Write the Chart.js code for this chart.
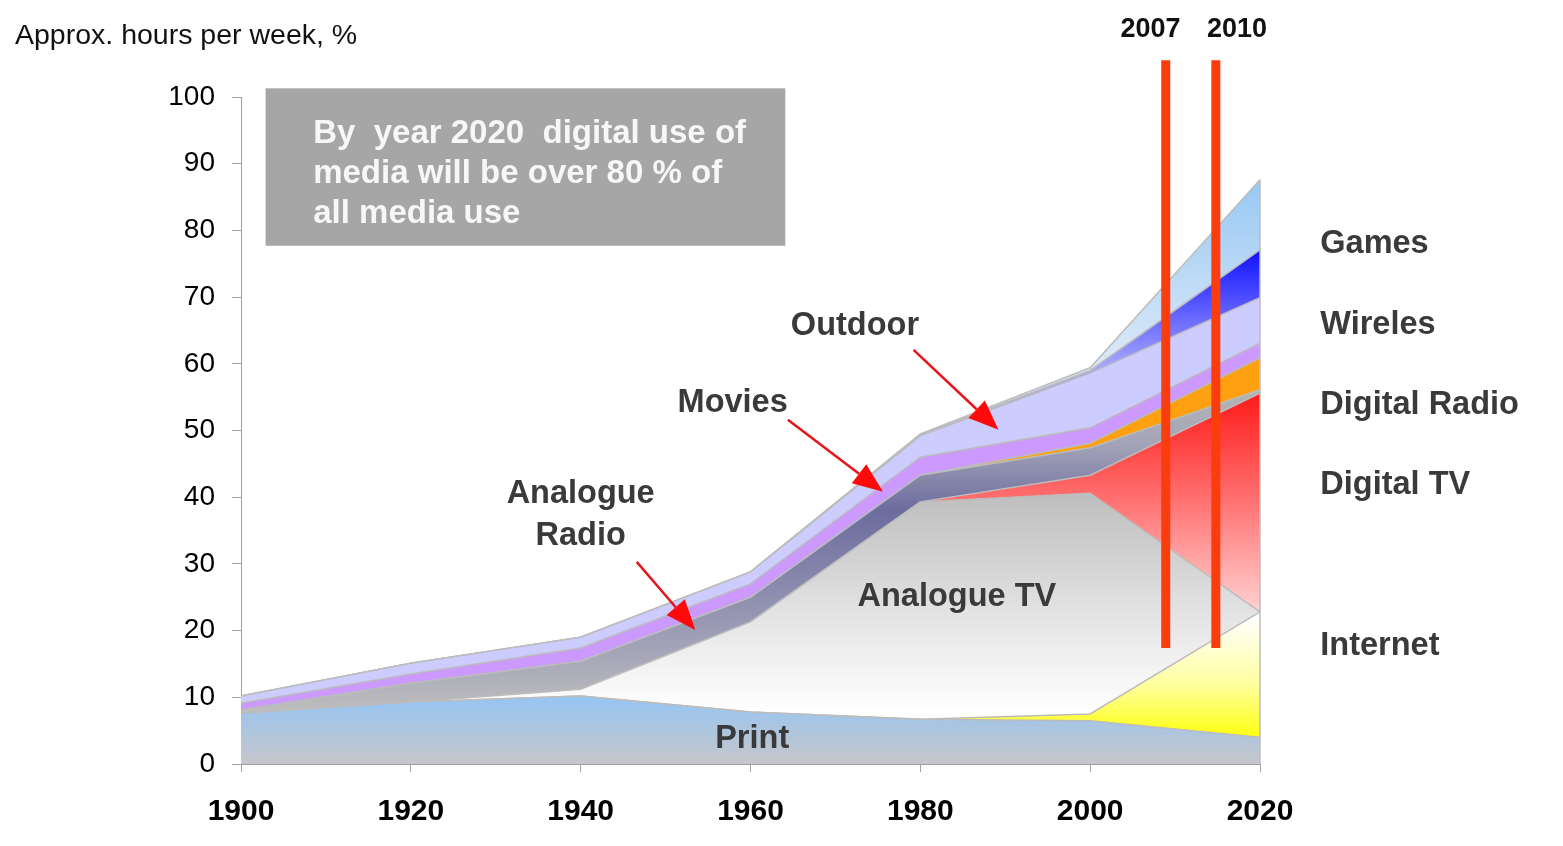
<!DOCTYPE html>
<html>
<head>
<meta charset="utf-8">
<title>Media use 1900-2020</title>
<script src="https://cdn.jsdelivr.net/npm/chart.js@4.4.1/dist/chart.umd.min.js"></script>
<style>
  html, body { margin: 0; padding: 0; background: #fff; }
  #wrap { position: relative; width: 1563px; height: 846px; }
</style>
</head>
<body>
<div id="wrap"><canvas id="mediaChart" width="1563" height="846"></canvas></div>
<script>
// years on the x axis
var years = [1900, 1920, 1940, 1960, 1980, 2000, 2020];

// stacked series, bottom to top (approx. hours per week, %)
var print         = [7.6, 9.3, 10.2, 7.8, 6.7, 6.5, 4.0];
var internet      = [0, 0, 0, 0, 0, 1.0, 18.8];
var analogueTv    = [0, 0, 1.0, 13.5, 32.6, 33.1, 0];
var digitalTv     = [0, 0, 0, 0, 0, 2.7, 32.8];
var analogueRadio = [0.5, 2.8, 4.2, 3.7, 4.0, 4.1, 0.5];
var digitalRadio  = [0, 0, 0, 0, 0, 0.7, 4.8];
var movies        = [1.0, 1.4, 2.0, 2.0, 2.7, 2.3, 2.2];
var outdoor       = [1.1, 1.6, 1.6, 1.8, 3.2, 8.2, 6.8];
var wireless      = [0, 0, 0, 0, 0.15, 0.4, 7.2];
var games         = [0, 0, 0, 0, 0.15, 0.4, 10.5];

var seriesNames = ['Print', 'Internet', 'Analogue TV', 'Digital TV', 'Analogue Radio',
                   'Digital Radio', 'Movies', 'Outdoor', 'Wireless', 'Games'];
var seriesValues = [print, internet, analogueTv, digitalTv, analogueRadio,
                    digitalRadio, movies, outdoor, wireless, games];

// the two red marker lines
var markerLabels = ['2007', '2010'];
var markerYears = [2008.9, 2014.8];

// fills: plain colour or vertical gradient stops [value, colour]
var seriesFills = [
    [[0, '#c6c6ca'], [10, '#96c5f3']],
    [[4, '#ffff10'], [12, '#ffffa0'], [22, '#ffffff']],
    [[8, '#ffffff'], [22, '#e4e4e4'], [40, '#bfbfbf']],
    [[22, '#ffd6d6'], [40, '#ff6e6e'], [56, '#ff1818']],
    [[8, '#bdbdbd'], [20, '#9c9cb6'], [38, '#6c6c9e'], [48, '#a4a4b8'], [56, '#b4b4b4']],
    '#ffa010',
    '#cc99ff',
    '#ccccff',
    [[60, '#a4a4ff'], [77, '#1010ff']],
    [[60, '#dde9f8'], [88, '#96c8f4']]
];

function paint(chart, fill) {
    if (typeof fill === 'string') return fill;
    if (!chart.chartArea) return fill[0][1];
    var y = chart.scales.y;
    var lo = fill[0][0], hi = fill[fill.length - 1][0];
    var g = chart.ctx.createLinearGradient(0, y.getPixelForValue(lo), 0, y.getPixelForValue(hi));
    fill.forEach(function (s) { g.addColorStop((s[0] - lo) / (hi - lo), s[1]); });
    return g;
}

var datasets = seriesNames.map(function (name, i) {
    return {
        label: name,
        data: years.map(function (yr, j) { return { x: yr, y: seriesValues[i][j] }; }),
        fill: i === 0 ? 'origin' : '-1',
        backgroundColor: function (c) { return paint(c.chart, seriesFills[i]); },
        borderColor: '#bcbcbc',
        borderWidth: 1.5,
        pointRadius: 0,
        tension: 0
    };
});

var FONT = 'Arial, "Liberation Sans", sans-serif';

var areaLabels = [
    { text: 'Outdoor', x: 1972.3, y: 65.7 },
    { text: 'Movies', x: 1957.9, y: 54.1 },
    { text: 'Analogue', x: 1940.0, y: 40.5 },
    { text: 'Radio', x: 1940.0, y: 34.2 },
    { text: 'Analogue TV', x: 1984.3, y: 25.0 },
    { text: 'Print', x: 1960.2, y: 3.7 }
];
var sideLabels = [
    { text: 'Games', y: 78.0 },
    { text: 'Wireles', y: 65.8 },
    { text: 'Digital Radio', y: 53.8 },
    { text: 'Digital TV', y: 41.8 },
    { text: 'Internet', y: 17.7 }
];
var arrows = [
    { from: [1979.2, 62.1], to: [1989.2, 50.1] },
    { from: [1964.4, 51.6], to: [1975.6, 40.8] },
    { from: [1946.6, 30.3], to: [1953.5, 20.1] }
];
var noteLines = ['By  year 2020  digital use of', 'media will be over 80 % of', 'all media use'];

function drawArrow(ctx, x0, y0, x1, y1) {
    var a = Math.atan2(y1 - y0, x1 - x0), head = 30, half = 12;
    var bx = x1 - head * Math.cos(a), by = y1 - head * Math.sin(a);
    ctx.strokeStyle = '#e8141b';
    ctx.lineWidth = 2.5;
    ctx.beginPath();
    ctx.moveTo(x0, y0);
    ctx.lineTo(bx, by);
    ctx.stroke();
    ctx.fillStyle = '#ff0a0a';
    ctx.beginPath();
    ctx.moveTo(x1, y1);
    ctx.lineTo(bx + half * Math.sin(a), by - half * Math.cos(a));
    ctx.lineTo(bx - half * Math.sin(a), by + half * Math.cos(a));
    ctx.closePath();
    ctx.fill();
}

var annotations = {
    id: 'annotations',
    afterDatasetsDraw: function (chart) {
        var ctx = chart.ctx, xs = chart.scales.x, ys = chart.scales.y;
        var px = function (v) { return xs.getPixelForValue(v); };
        var py = function (v) { return ys.getPixelForValue(v); };
        ctx.save();

        // right edge of the stacked area
        var last = years.length - 1, total = 0;
        seriesValues.forEach(function (s) { total += s[last]; });
        ctx.strokeStyle = '#bcbcbc';
        ctx.lineWidth = 1.5;
        ctx.beginPath();
        ctx.moveTo(px(years[last]), py(0));
        ctx.lineTo(px(years[last]), py(total));
        ctx.stroke();

        // red marker lines
        ctx.strokeStyle = '#fb3c0c';
        ctx.lineWidth = 9;
        markerYears.forEach(function (yr) {
            ctx.beginPath();
            ctx.moveTo(px(yr), py(105.5));
            ctx.lineTo(px(yr), py(17.4));
            ctx.stroke();
        });
        ctx.fillStyle = '#111';
        ctx.font = 'bold 27px ' + FONT;
        ctx.textAlign = 'center';
        ctx.textBaseline = 'middle';
        ctx.fillText(markerLabels[0], px(2007.1), 30);
        ctx.fillText(markerLabels[1], px(2017.3), 30);

        // note box
        ctx.fillStyle = '#a6a6a6';
        ctx.fillRect(px(1902.9), py(101.3), px(1964.1) - px(1902.9), py(77.7) - py(101.3));
        ctx.fillStyle = '#f7f7f7';
        ctx.font = 'bold 33px ' + FONT;
        ctx.textAlign = 'left';
        noteLines.forEach(function (t, i) {
            ctx.fillText(t, px(1908.5), py(94.5) + i * 40);
        });

        // labels
        ctx.fillStyle = '#3a3a3a';
        ctx.font = 'bold 32.5px ' + FONT;
        ctx.textAlign = 'center';
        areaLabels.forEach(function (l) { ctx.fillText(l.text, px(l.x), py(l.y)); });
        ctx.textAlign = 'left';
        sideLabels.forEach(function (l) { ctx.fillText(l.text, px(2027.1), py(l.y)); });

        arrows.forEach(function (a) {
            drawArrow(ctx, px(a.from[0]), py(a.from[1]), px(a.to[0]), py(a.to[1]));
        });

        // axis caption
        ctx.fillStyle = '#111';
        ctx.font = '28.5px ' + FONT;
        ctx.textAlign = 'left';
        ctx.fillText('Approx. hours per week, %', 15, 36);
        ctx.restore();
    }
};

var ctx = document.getElementById('mediaChart').getContext('2d');
var chart = new Chart(ctx, {
    type: 'line',
    data: { datasets: datasets },
    plugins: [annotations],
    options: {
        responsive: false,
        animation: false,
        devicePixelRatio: 1,
        layout: { padding: { top: 97, right: 303, bottom: 0, left: 0 } },
        plugins: {
            legend: { display: false },
            tooltip: { enabled: false }
        },
        scales: {
            x: {
                type: 'linear',
                min: 1900,
                max: 2020,
                ticks: {
                    stepSize: 20,
                    color: '#000',
                    padding: 22,
                    font: { family: FONT, size: 30, weight: 'bold' },
                    callback: function (v) { return String(v); }
                },
                grid: { drawOnChartArea: false, tickLength: 8, color: '#a0a0a0' },
                border: { color: '#a0a0a0' },
                afterFit: function (s) { s.height = 82; }
            },
            y: {
                stacked: true,
                min: 0,
                max: 100,
                ticks: {
                    stepSize: 10,
                    color: '#000',
                    padding: 17,
                    font: { family: FONT, size: 28 }
                },
                grid: { drawOnChartArea: false, tickLength: 9, color: '#a0a0a0' },
                border: { color: '#a0a0a0' },
                afterFit: function (s) { s.width = 241; }
            }
        }
    }
});
</script>
</body>
</html>
